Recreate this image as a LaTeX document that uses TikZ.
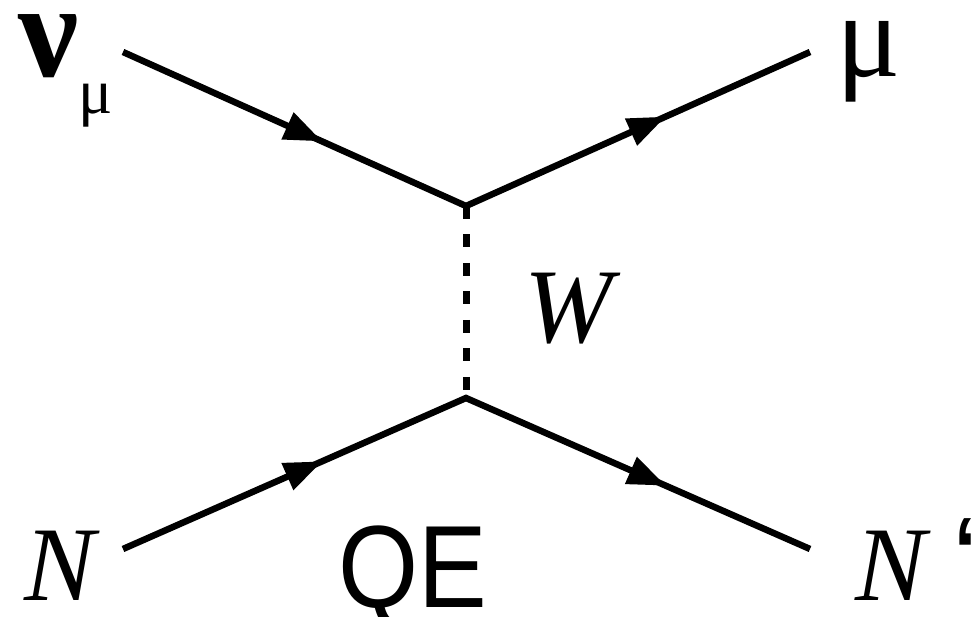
\documentclass[tikz,border=0pt]{standalone}
\usepackage{fontspec}
\setmainfont{Liberation Serif}
\newfontfamily\arialfont{Liberation Sans}
\usetikzlibrary{arrows.meta,decorations.markings}
\tikzset{
  line/.style={line width=6.5pt},
  fermion/.style={line, line join=miter, postaction={decorate},
    decoration={markings,
      mark=at position 0.29 with {\arrow{Triangle[length=38pt,width=28pt]}},
      mark=at position 0.79 with {\arrow{Triangle[length=38pt,width=28pt]}}}},
  boson/.style={line width=7pt, dash pattern=on 13pt off 15.5pt},
  lbl/.style={inner sep=0pt, anchor=base west, text depth=0pt},
}
\begin{document}
\begin{tikzpicture}[x=1pt,y=-1pt]
\useasboundingbox (0,0) rectangle (980,617);
\coordinate (nu) at (123,52);
\coordinate (mu) at (810,52);
\coordinate (vt) at (466,206);
\coordinate (vb) at (466,398);
\coordinate (n1) at (123,549);
\coordinate (n2) at (810,549);
\draw[fermion] (nu) -- (vt) -- (mu);
\draw[fermion] (n1) -- (vb) -- (n2);
\draw[boson] (vt) -- (vb);
\node[lbl, text height=57pt] (lnu) at (18,77) {\fontsize{135}{135}\selectfont\bfseries ν};
\node[lbl, text height=32pt, text depth=12pt] (lnusub) at (78,114) {\fontsize{64}{64}\selectfont μ};
\node[lbl, text height=55pt, text depth=21pt] (lmu) at (836,77) {\fontsize{120}{120}\selectfont μ};
\node[lbl, text height=70pt] (lW) at (524,343) {\fontsize{106}{106}\selectfont\itshape W};
\node[lbl, text height=68pt] (lN) at (24,600) {\fontsize{106}{106}\selectfont\itshape N};
\node[lbl, text height=86pt] (lQE) at (338,607) {\fontsize{117}{117}\selectfont\arialfont\scalebox{0.88}[1]{QE}};
\node[lbl, text height=68pt] (lN2) at (855,600) {\fontsize{106}{106}\selectfont\itshape N};
\node[lbl, text height=78pt] (lq) at (952,600) {\fontsize{119}{119}\selectfont\arialfont ‘};
\end{tikzpicture}
\end{document}
